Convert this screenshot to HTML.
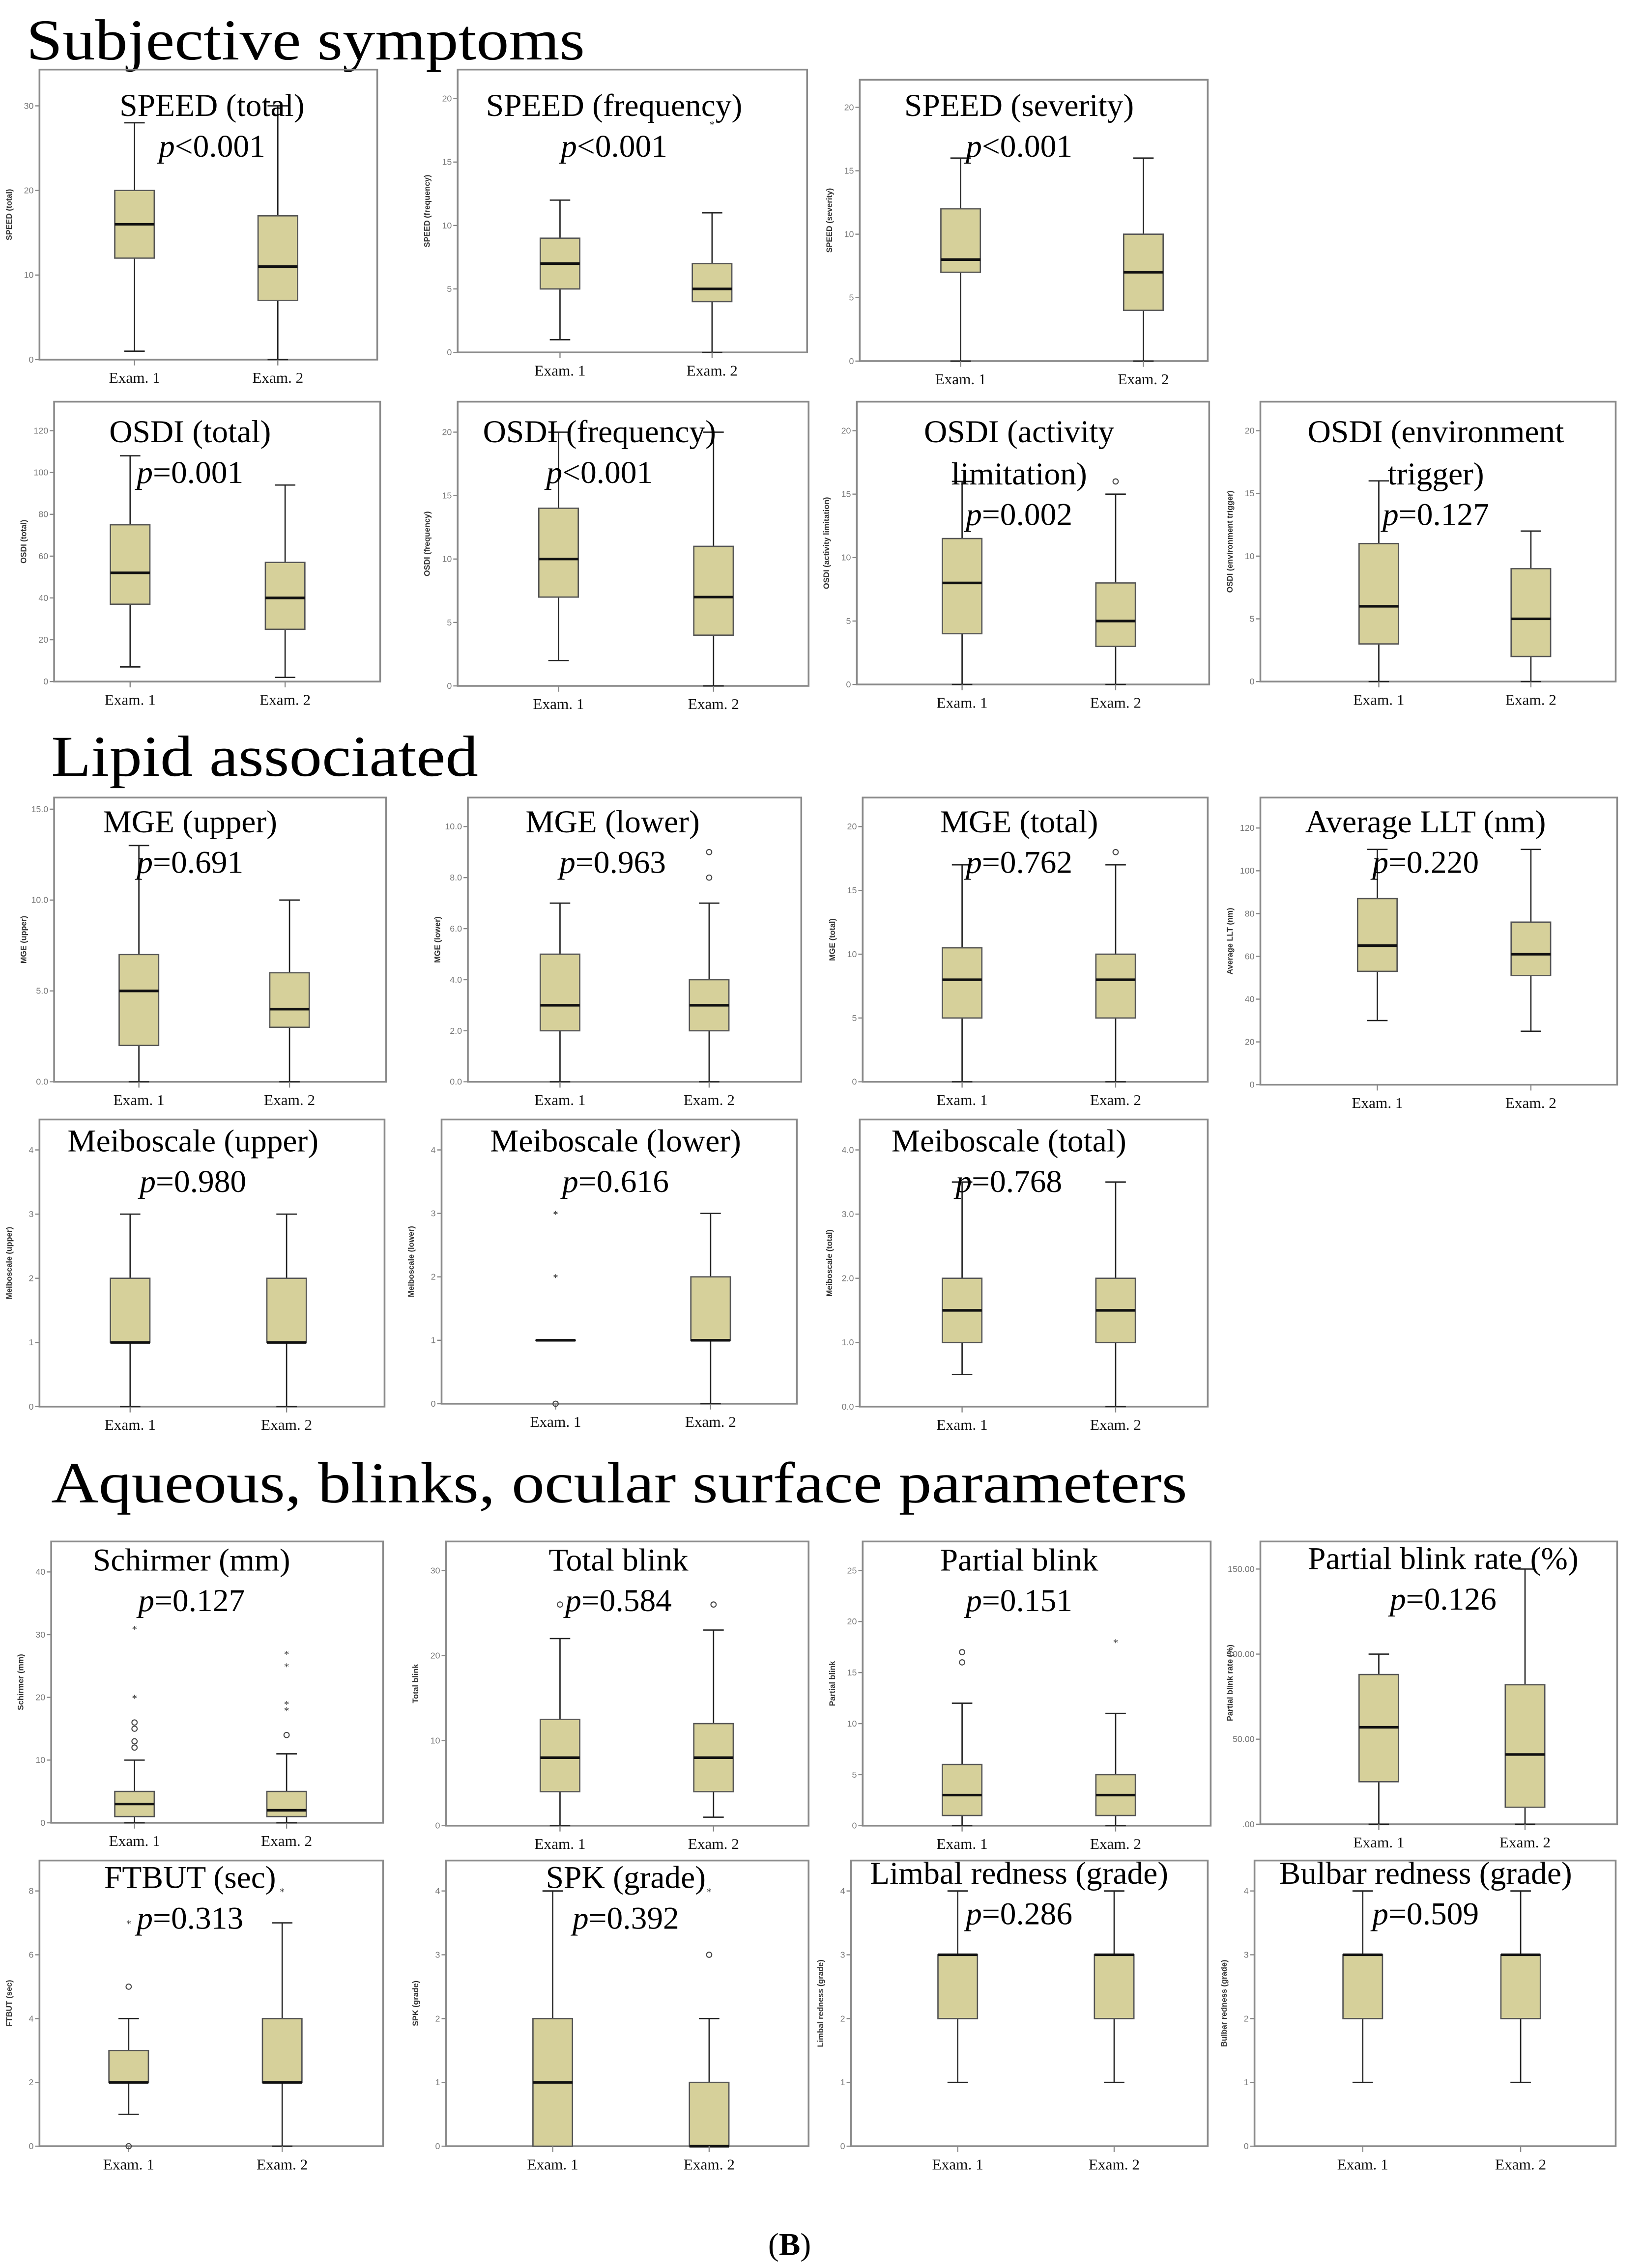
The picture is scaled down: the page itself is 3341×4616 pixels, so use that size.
<!DOCTYPE html>
<html><head><meta charset="utf-8"><style>
html,body{margin:0;padding:0;background:#fff}
svg{display:block}
</style></head><body>
<svg id="fig" width="3341" height="4616" viewBox="0 0 1123 1564" preserveAspectRatio="none" xmlns="http://www.w3.org/2000/svg" font-family="Liberation Serif, serif">
<text x="18" y="41" font-size="40" textLength="382" lengthAdjust="spacingAndGlyphs">Subjective symptoms</text>
<text x="35" y="535" font-size="40" textLength="292" lengthAdjust="spacingAndGlyphs">Lipid associated</text>
<text x="35" y="1036" font-size="40" textLength="777" lengthAdjust="spacingAndGlyphs">Aqueous, blinks, ocular surface parameters</text>
<text x="540" y="1555" font-size="22" text-anchor="middle">(<tspan font-weight="bold">B</tspan>)</text>
<g id="panels"></g>
</svg>
<script>
// Categories
const categories = ["Exam. 1", "Exam. 2"];
// Five-number summaries [min, q1, median, q3, max] per panel: [exam1, exam2]
const speedTotal = [[1,12,16,20,28],[0,7,11,17,30]];
const speedFreq = [[1,5,7,9,12],[0,4,5,7,11]];
const speedSev = [[0,7,8,12,16],[0,4,7,10,16]];
const osdiTotal = [[7,37,52,75,108],[2,25,40,57,94]];
const osdiFreq = [[2,7,10,14,20],[0,4,7,11,20]];
const osdiAct = [[0,4,8,11.5,16],[0,3,5,8,15]];
const osdiEnv = [[0,3,6,11,16],[0,2,5,9,12]];
const mgeUpper = [[0,2,5,7,13],[0,3,4,6,10]];
const mgeLower = [[0,2,3,5,7],[0,2,3,4,7]];
const mgeTotal = [[0,5,8,10.5,17],[0,5,8,10,17]];
const avgLLT = [[30,53,65,87,110],[25,51,61,76,110]];
const meiboUpper = [[0,1,1,2,3],[0,1,1,2,3]];
const meiboLower = [[1,1,1,1,1],[0,1,1,2,3]];
const meiboTotal = [[0.5,1,1.5,2,3.5],[0,1,1.5,2,3.5]];
const schirmer = [[0,1,3,5,10],[0,1,2,5,11]];
const totalBlink = [[0,4,8,12.5,22],[1,4,8,12,23]];
const partialBlink = [[0,1,3,6,12],[0,1,3,5,11]];
const partialRate = [[0,25,57,88,100],[0,10,41,82,150]];
const ftbut = [[1,2,2,3,4],[0,2,2,4,7]];
const spk = [[0,0,1,2,4],[0,0,0,1,2]];
const limbal = [[1,2,3,3,4],[1,2,3,3,4]];
const bulbar = [[1,2,3,3,4],[1,2,3,3,4]];
// Outliers: [circles, stars] per exam
const outSpeedFreq = [[[],[]],[[],[18]]];
const outOsdiAct = [[[],[]],[[16],[]]];
const outMgeLower = [[[],[]],[[8,9],[]]];
const outMgeTotal = [[[],[]],[[18],[]]];
const outMeiboLower = [[[0],[2,3]],[[],[]]];
const outSchirmer = [[[12,13,15,16],[20,31]],[[14],[18,19,25,27]]];
const outTotalBlink = [[[26],[]],[[26],[]]];
const outPartialBlink = [[[16,17],[]],[[],[18]]];
const outFtbut = [[[0,5],[7]],[[],[8]]];
const outSpk = [[[],[]],[[3],[4]]];
// Tick labels
const ticks30 = [0,10,20,30];
const ticks20 = [0,5,10,15,20];
const ticks120 = [0,20,40,60,80,100,120];
const ticks15 = [0,5,10,15];
const ticks10 = [0,2,4,6,8,10];
const ticks4 = [0,1,2,3,4];
const ticks40 = [0,10,20,30,40];
const ticks25 = [0,5,10,15,20,25];
const ticks150 = [0,50,100,150];
const ticks8 = [0,2,4,6,8];

const none = [[[],[]],[[],[]]];
// layout: frame [x1,y1,x2,y2], axis max, px of max, box x positions
const panels = [
 {n:"speed-total",d:speedTotal,o:none,t:ticks30,fmt:v=>v,f:[27,48,258,248],max:30,ym:73,xs:[92,190],title:["SPEED (total)"],p:"<0.001",tx:145,ty:80,yl:"SPEED (total)"},
 {n:"speed-frequency",d:speedFreq,o:outSpeedFreq,t:ticks20,fmt:v=>v,f:[313,48,552,243],max:20,ym:68,xs:[383,487],title:["SPEED (frequency)"],p:"<0.001",tx:420,ty:80,yl:"SPEED (frequency)"},
 {n:"speed-severity",d:speedSev,o:none,t:ticks20,fmt:v=>v,f:[588,55,826,249],max:20,ym:74,xs:[657,782],title:["SPEED (severity)"],p:"<0.001",tx:697,ty:80,yl:"SPEED (severity)"},
 {n:"osdi-total",d:osdiTotal,o:none,t:ticks120,fmt:v=>v,f:[37,277,260,470],max:120,ym:297,xs:[89,195],title:["OSDI (total)"],p:"=0.001",tx:130,ty:305,yl:"OSDI (total)"},
 {n:"osdi-frequency",d:osdiFreq,o:none,t:ticks20,fmt:v=>v,f:[313,277,553,473],max:20,ym:298,xs:[382,488],title:["OSDI (frequency)"],p:"<0.001",tx:410,ty:305,yl:"OSDI (frequency)"},
 {n:"osdi-activity",d:osdiAct,o:outOsdiAct,t:ticks20,fmt:v=>v,f:[586,277,827,472],max:20,ym:297,xs:[658,763],title:["OSDI (activity","limitation)"],p:"=0.002",tx:697,ty:305,yl:"OSDI (activity limitation)"},
 {n:"osdi-environment",d:osdiEnv,o:none,t:ticks20,fmt:v=>v,f:[862,277,1105,470],max:20,ym:297,xs:[943,1047],title:["OSDI (environment","trigger)"],p:"=0.127",tx:982,ty:305,yl:"OSDI (environment trigger)"},
 {n:"mge-upper",d:mgeUpper,o:none,t:ticks15,fmt:v=>v.toFixed(1),f:[37,550,264,746],max:15,ym:558,xs:[95,198],title:["MGE (upper)"],p:"=0.691",tx:130,ty:574,yl:"MGE (upper)"},
 {n:"mge-lower",d:mgeLower,o:outMgeLower,t:ticks10,fmt:v=>v.toFixed(1),f:[320,550,548,746],max:10,ym:570,xs:[383,485],title:["MGE (lower)"],p:"=0.963",tx:419,ty:574,yl:"MGE (lower)"},
 {n:"mge-total",d:mgeTotal,o:outMgeTotal,t:ticks20,fmt:v=>v,f:[590,550,826,746],max:20,ym:570,xs:[658,763],title:["MGE (total)"],p:"=0.762",tx:697,ty:574,yl:"MGE (total)"},
 {n:"average-llt",d:avgLLT,o:none,t:ticks120,fmt:v=>v,f:[862,550,1106,748],max:120,ym:571,xs:[942,1047],title:["Average LLT (nm)"],p:"=0.220",tx:975,ty:574,yl:"Average LLT (nm)"},
 {n:"meiboscale-upper",d:meiboUpper,o:none,t:ticks4,fmt:v=>v,f:[27,772,263,970],max:4,ym:793,xs:[89,196],title:["Meiboscale (upper)"],p:"=0.980",tx:132,ty:794,yl:"Meiboscale (upper)"},
 {n:"meiboscale-lower",d:meiboLower,o:outMeiboLower,t:ticks4,fmt:v=>v,f:[302,772,545,968],max:4,ym:793,xs:[380,486],title:["Meiboscale (lower)"],p:"=0.616",tx:421,ty:794,yl:"Meiboscale (lower)"},
 {n:"meiboscale-total",d:meiboTotal,o:none,t:ticks4,fmt:v=>v.toFixed(1),f:[588,772,826,970],max:4,ym:793,xs:[658,763],title:["Meiboscale (total)"],p:"=0.768",tx:690,ty:794,yl:"Meiboscale (total)"},
 {n:"schirmer",d:schirmer,o:outSchirmer,t:ticks40,fmt:v=>v,f:[35,1063,262,1257],max:40,ym:1084,xs:[92,196],title:["Schirmer (mm)"],p:"=0.127",tx:131,ty:1083,yl:"Schirmer (mm)"},
 {n:"total-blink",d:totalBlink,o:outTotalBlink,t:ticks30,fmt:v=>v,f:[305,1063,553,1259],max:30,ym:1083,xs:[383,488],title:["Total blink"],p:"=0.584",tx:423,ty:1083,yl:"Total blink"},
 {n:"partial-blink",d:partialBlink,o:outPartialBlink,t:ticks25,fmt:v=>v,f:[590,1063,828,1259],max:25,ym:1083,xs:[658,763],title:["Partial blink"],p:"=0.151",tx:697,ty:1083,yl:"Partial blink"},
 {n:"partial-blink-rate",d:partialRate,o:none,t:ticks150,fmt:v=>v===0?".00":v.toFixed(2),f:[862,1063,1106,1258],max:150,ym:1082,xs:[943,1043],title:["Partial blink rate (%)"],p:"=0.126",tx:987,ty:1082,yl:"Partial blink rate (%)"},
 {n:"ftbut",d:ftbut,o:outFtbut,t:ticks8,fmt:v=>v,f:[27,1283,262,1480],max:8,ym:1304,xs:[88,193],title:["FTBUT (sec)"],p:"=0.313",tx:130,ty:1302,yl:"FTBUT (sec)"},
 {n:"spk",d:spk,o:outSpk,t:ticks4,fmt:v=>v,f:[305,1283,553,1480],max:4,ym:1304,xs:[378,485],title:["SPK (grade)"],p:"=0.392",tx:428,ty:1302,yl:"SPK (grade)"},
 {n:"limbal-redness",d:limbal,o:none,t:ticks4,fmt:v=>v,f:[582,1283,826,1480],max:4,ym:1304,xs:[655,762],title:["Limbal redness (grade)"],p:"=0.286",tx:697,ty:1299,yl:"Limbal redness (grade)"},
 {n:"bulbar-redness",d:bulbar,o:none,t:ticks4,fmt:v=>v,f:[858,1283,1105,1480],max:4,ym:1304,xs:[932,1040],title:["Bulbar redness (grade)"],p:"=0.509",tx:975,ty:1299,yl:"Bulbar redness (grade)"}
];

const NS="http://www.w3.org/2000/svg";
const root=document.getElementById("panels");
function mk(tag,parent,attrs){const e=document.createElementNS(NS,tag);for(const k in attrs)e.setAttribute(k,attrs[k]);parent.appendChild(e);return e;}

panels.forEach(P=>{
  const g=mk("g",root,{});
  
  
  const [x1,y1,x2,y2]=P.f;
  const y=v=>y2-(v/P.max)*(y2-P.ym);
  const fr=mk("rect",g,{x:x1,y:y1,width:x2-x1,height:y2-y1,fill:"none",stroke:"#8a8a8a","stroke-width":1.2});
  
  
  P.t.forEach(v=>{
    mk("line",g,{x1:x1-3,x2:x1,y1:y(v),y2:y(v),stroke:"#888","stroke-width":0.8});
    const tl=mk("text",g,{x:x1-4,y:y(v)+2,"font-size":6,"font-family":"Liberation Sans, sans-serif",fill:"#777","text-anchor":"end"});
    tl.textContent=P.fmt(v);
    
    
  });
  const yt=mk("text",g,{x:0,y:0,"font-size":5.5,"font-weight":"bold","font-family":"Liberation Sans, sans-serif",fill:"#333","text-anchor":"middle",transform:`translate(${x1-19},${(y1+y2)/2}) rotate(-90)`});
  yt.textContent=P.yl;
  
  
  P.d.forEach((s,i)=>{
    const cx=P.xs[i], w=27, cw=7;
    mk("line",g,{x1:cx,x2:cx,y1:y(s[0]),y2:y(s[4]),stroke:"#222","stroke-width":0.9});
    mk("line",g,{x1:cx-cw,x2:cx+cw,y1:y(s[0]),y2:y(s[0]),stroke:"#222","stroke-width":0.9});
    mk("line",g,{x1:cx-cw,x2:cx+cw,y1:y(s[4]),y2:y(s[4]),stroke:"#222","stroke-width":0.9});
    const b=mk("rect",g,{x:cx-w/2,y:y(s[3]),width:w,height:Math.max(0.01,y(s[1])-y(s[3])),fill:"#d6d09a",stroke:"#555","stroke-width":0.9});
    
    
    const m=mk("line",g,{x1:cx-w/2,x2:cx+w/2,y1:y(s[2]),y2:y(s[2]),stroke:"#111","stroke-width":1.8});
    
    
    mk("line",g,{x1:cx,x2:cx,y1:y2,y2:y2+4,stroke:"#888","stroke-width":0.8});
    P.o[i][0].forEach(v=>{const c=mk("circle",g,{cx:cx,cy:y(v),r:1.8,fill:"none",stroke:"#444","stroke-width":0.7});
      
      });
    P.o[i][1].forEach(v=>{const st=mk("text",g,{x:cx,y:y(v)+3,"font-size":7,"text-anchor":"middle",fill:"#333"});st.textContent="*";
      
      });
    const xl=mk("text",g,{x:cx,y:y2+16,"font-size":10.5,"text-anchor":"middle",fill:"#111"});
    xl.textContent=categories[i];
    
    
  });
  P.title.forEach((t,k)=>{
    const tt=mk("text",g,{x:P.tx,y:P.ty+k*29,"font-size":22,"text-anchor":"middle",fill:"#000"});
    tt.textContent=t;
    
    
  });
  const pt=mk("text",g,{x:P.tx,y:P.ty+P.title.length*29-1,"font-size":22,"text-anchor":"middle",fill:"#000"});
  pt.innerHTML='<tspan font-style="italic">p</tspan>'+P.p.replace('<','&lt;');
  
  
});
</script>
</body></html>
